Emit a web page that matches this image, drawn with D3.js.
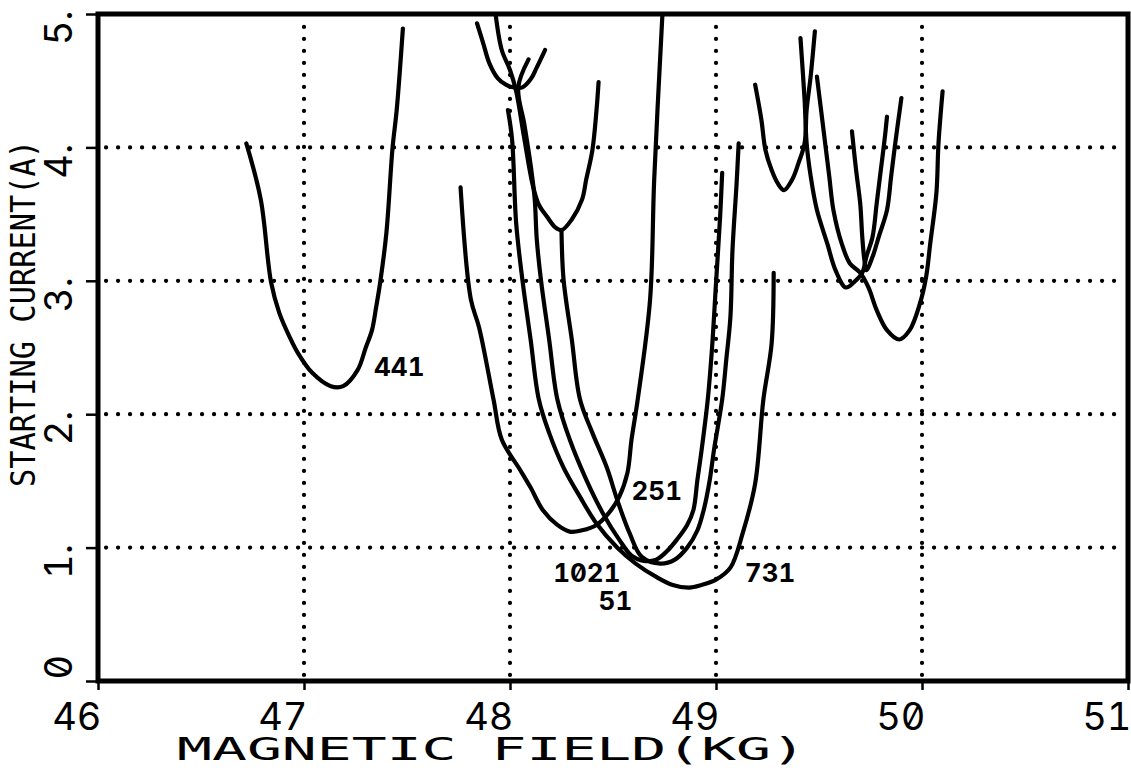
<!DOCTYPE html>
<html>
<head>
<meta charset="utf-8">
<script src="https://cdnjs.cloudflare.com/ajax/libs/d3/7.8.5/d3.min.js"></script>
<style>
body { margin: 0; background: #fff; }
svg { display: block; background: #fff; }
text { font-family: "DejaVu Sans Mono", monospace; fill: #000; }
.num { font-family: Inter, "DejaVu Sans Mono", sans-serif; font-feature-settings: "zero" 1, "tnum" 1; font-variant-numeric: slashed-zero tabular-nums; }
.curve { fill: none; stroke: #000; stroke-width: 4.2; stroke-linejoin: round; stroke-linecap: round; }
.grid line { stroke: #000; stroke-width: 4.2; stroke-dasharray: 0.1 11.9; stroke-linecap: round; }
</style>
</head>
<body>
<svg width="1131" height="771"></svg>
<script>
// axis ticks and labels
const xTicks = [46, 47, 48, 49, 50, 51];
const xTickLabels = ["46", "47", "48", "49", "50", "51"];
const yTicks = [0, 1, 2, 3, 4, 5];
const yTickLabels = ["0", "1.", "2.", "3.", "4.", "5."];
const xTitle = "MAGNETIC FIELD(KG)";
const yTitle = "STARTING CURRENT(A)";

// starting current curves, [field kG, current A]
const mode441 = [[46.72,4.03],[46.79,3.61],[46.84,2.99],[46.88,2.76],[46.93,2.58],[46.97,2.46],[47.04,2.31],[47.13,2.21],[47.19,2.21],[47.26,2.33],[47.30,2.50],[47.33,2.63],[47.35,2.80],[47.37,2.99],[47.40,3.36],[47.43,4.00],[47.45,4.28],[47.48,4.89]];
const mode251 = [[47.76,3.70],[47.81,2.86],[47.85,2.65],[47.92,2.11],[47.96,1.81],[48.05,1.58],[48.10,1.45],[48.16,1.28],[48.23,1.17],[48.29,1.12],[48.35,1.13],[48.42,1.17],[48.48,1.26],[48.53,1.38],[48.57,1.56],[48.59,1.81],[48.62,2.11],[48.68,2.86],[48.70,3.76],[48.74,5.00]];
const mode1021 = [[48.09,4.66],[48.04,4.45],[48.07,4.17],[48.10,3.87],[48.12,3.61],[48.13,3.31],[48.15,3.01],[48.19,2.56],[48.23,2.11],[48.29,1.81],[48.37,1.51],[48.45,1.26],[48.53,1.06],[48.59,0.94],[48.65,0.90],[48.71,0.91],[48.76,0.97],[48.81,1.06],[48.86,1.17],[48.89,1.28],[48.91,1.51],[48.93,1.73],[48.96,2.11],[48.98,2.48],[49.00,2.98],[49.02,3.48],[49.03,3.81]];
const mode51 = [[48.25,3.37],[48.26,3.01],[48.30,2.56],[48.34,2.11],[48.40,1.86],[48.47,1.60],[48.52,1.36],[48.58,1.11],[48.64,0.93],[48.73,0.88],[48.80,0.91],[48.86,1.00],[48.91,1.13],[48.94,1.28],[48.97,1.51],[48.99,1.73],[49.03,2.11],[49.05,2.41],[49.07,2.73],[49.08,3.23],[49.10,3.73],[49.11,4.03]];
const mode731 = [[47.99,4.28],[48.01,4.06],[48.03,3.43],[48.06,3.01],[48.10,2.56],[48.14,2.11],[48.19,1.86],[48.26,1.60],[48.34,1.38],[48.42,1.18],[48.52,1.00],[48.61,0.88],[48.71,0.78],[48.79,0.72],[48.87,0.70],[48.93,0.72],[49.00,0.76],[49.07,0.85],[49.13,1.11],[49.19,1.48],[49.23,2.11],[49.27,2.53],[49.28,3.06]];
// higher order branches without labels
const upperA = [[47.84,4.93],[47.87,4.78],[47.90,4.63],[47.94,4.52],[47.98,4.47],[48.02,4.45],[48.06,4.45],[48.10,4.51],[48.13,4.60],[48.17,4.73]];
const upperB = [[47.93,5.00],[47.96,4.73],[48.00,4.58],[48.03,4.42],[48.07,4.06],[48.11,3.72],[48.14,3.57],[48.18,3.48],[48.22,3.40],[48.25,3.38],[48.30,3.46],[48.35,3.61],[48.37,3.76],[48.40,3.98],[48.42,4.28],[48.43,4.49]];
const upperC = [[49.19,4.47],[49.22,4.21],[49.24,3.98],[49.27,3.83],[49.30,3.73],[49.33,3.68],[49.37,3.76],[49.40,3.88],[49.43,4.03],[49.44,4.28],[49.46,4.54],[49.48,4.87]];
const upperD = [[49.41,4.82],[49.43,4.36],[49.44,4.03],[49.46,3.78],[49.49,3.53],[49.54,3.28],[49.58,3.08],[49.63,2.95],[49.67,2.99],[49.71,3.06],[49.73,3.18],[49.76,3.33],[49.78,3.58],[49.80,3.83],[49.82,4.08],[49.83,4.23]];
const upperE = [[49.66,4.12],[49.68,3.83],[49.70,3.58],[49.71,3.33],[49.72,3.16],[49.73,3.08],[49.76,3.18],[49.79,3.33],[49.83,3.53],[49.85,3.78],[49.87,4.03],[49.90,4.37]];
const upperF = [[49.49,4.53],[49.51,4.28],[49.53,4.03],[49.55,3.78],[49.57,3.53],[49.61,3.28],[49.65,3.13],[49.70,3.06],[49.74,2.95],[49.78,2.78],[49.83,2.63],[49.89,2.56],[49.94,2.63],[49.99,2.83],[50.02,3.03],[50.04,3.28],[50.07,3.66],[50.08,4.03],[50.10,4.42]];

const curves = [mode441, mode251, mode1021, mode51, mode731, upperA, upperB, upperC, upperD, upperE, upperF];

// curve labels and where they sit (field, current)
const labelText = ["441", "251", "1021", "51", "731"];
const labelAt = [[47.34, 2.29], [48.59, 1.36], [48.21, 0.74], [48.43, 0.53], [49.14, 0.74]];

const svg = d3.select("svg"),
  width = +svg.attr("width"),
  height = +svg.attr("height"),
  margin = { top: 14, right: 3, bottom: 90, left: 98 },
  innerWidth = width - margin.left - margin.right,
  innerHeight = height - margin.top - margin.bottom;

const g = svg.append("g").attr("transform", `translate(${margin.left},${margin.top})`);

const xScale = d3.scaleLinear().domain([46, 51]).range([0, innerWidth]);
const yScale = d3.scaleLinear().domain([0, 5]).range([innerHeight, 0]);

// dotted grid
const grid = g.append("g").attr("class", "grid");
grid.selectAll(".gx")
  .data(xTicks.slice(1, -1))
  .join("line")
  .attr("class", "gx")
  .attr("x1", d => xScale(d)).attr("x2", d => xScale(d))
  .attr("y1", innerHeight - 6).attr("y2", 6);
grid.selectAll(".gy")
  .data(yTicks.slice(1, -1))
  .join("line")
  .attr("class", "gy")
  .attr("y1", d => yScale(d)).attr("y2", d => yScale(d))
  .attr("x1", 8).attr("x2", innerWidth - 4);

// curves
const line = d3.line()
  .x(d => xScale(d[0]))
  .y(d => yScale(d[1]))
  .curve(d3.curveCatmullRom.alpha(0.5));

g.selectAll(".curve")
  .data(curves)
  .join("path")
  .attr("class", "curve")
  .attr("d", line);

// curve labels
g.selectAll(".lab")
  .data(labelText)
  .join("text")
  .attr("class", "lab num")
  .attr("x", (d, i) => xScale(labelAt[i][0]))
  .attr("y", (d, i) => yScale(labelAt[i][1]))
  .attr("font-size", 26)
  .attr("font-weight", "bold")
  .text(d => d);

// axes
const xAxis = d3.axisBottom(xScale).tickValues(xTicks).tickSize(9).tickSizeOuter(0)
  .tickFormat((d, i) => xTickLabels[i]);
const yAxis = d3.axisLeft(yScale).tickValues(yTicks).tickSize(12).tickSizeOuter(0)
  .tickFormat((d, i) => yTickLabels[i]);

const gx = g.append("g")
  .attr("transform", `translate(0, ${innerHeight})`)
  .call(xAxis);
gx.selectAll(".tick line").attr("stroke-width", 2.5);
gx.selectAll("text")
  .attr("class", "num")
  .attr("font-family", null)
  .attr("font-size", 38)
  .attr("text-anchor", "end")
  .attr("x", 3)
  .attr("y", 49)
  .attr("dy", 0);

const gy = g.append("g").call(yAxis);
gy.selectAll(".tick line").attr("stroke-width", 2.5);
gy.selectAll("text")
  .attr("class", "num")
  .attr("font-family", null)
  .attr("font-size", 38)
  .attr("transform", "rotate(-90)")
  .attr("text-anchor", d => d === 0 ? "start" : "end")
  .attr("x", d => d === 0 ? 2 : 4)
  .attr("y", -26)
  .attr("dy", 0);

gx.select(".domain").remove();
gy.select(".domain").remove();

// frame
g.append("rect")
  .attr("x", 0).attr("y", 0)
  .attr("width", innerWidth).attr("height", innerHeight)
  .attr("fill", "none").attr("stroke", "#000").attr("stroke-width", 5);

// axis titles
svg.append("text")
  .attr("x", 177)
  .attr("y", 760)
  .attr("font-size", 32)
  .attr("textLength", 629)
  .attr("lengthAdjust", "spacingAndGlyphs")
  .text(xTitle);

svg.append("text")
  .attr("transform", "translate(35, 487) rotate(-90)")
  .attr("font-size", 34)
  .attr("textLength", 347)
  .attr("lengthAdjust", "spacingAndGlyphs")
  .text(yTitle);
</script>
</body>
</html>
